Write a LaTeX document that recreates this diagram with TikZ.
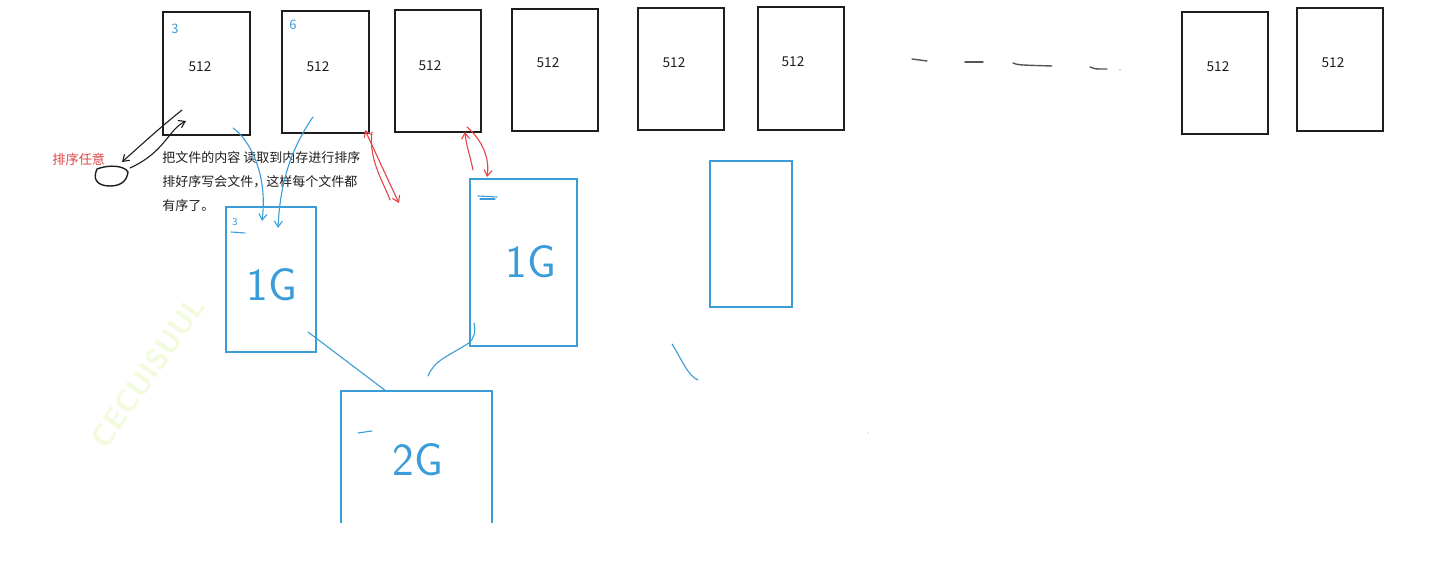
\documentclass[tikz,border=0pt]{standalone}
\usepackage{fontspec}
\setmainfont{Noto Sans CJK SC}
\usetikzlibrary{arrows.meta}
\definecolor{inkblue}{RGB}{58,157,217}
\definecolor{inkred}{RGB}{226,70,70}
\definecolor{inkblack}{RGB}{30,30,30}
\definecolor{wmcol}{RGB}{242,251,222}
\tikzset{
  fbox/.style={draw=inkblack,line width=1pt,inner sep=0pt,outer sep=0pt},
  mbox/.style={draw=inkblue,line width=1pt,inner sep=0pt,outer sep=0pt},
  numlbl/.style={inkblack,font=\fontsize{6.8}{8}\selectfont,inner sep=0pt},
  idxlbl/.style={inkblue,font=\fontsize{6.5}{8}\selectfont,inner sep=0pt},
  bigG/.style={inkblue,font=\sffamily\fontsize{23}{26}\selectfont,inner sep=0pt},
  pen/.style={line width=0.55pt,line cap=round,line join=round},
  bluepen/.style={pen,draw=inkblue},
  redpen/.style={pen,draw=inkred},
  blackpen/.style={pen,draw=inkblack},
  tip/.style={-{Straight Barb[length=3pt,width=4pt]}},
  dtip/.style={{Straight Barb[length=3pt,width=4pt]}-{Straight Barb[length=3pt,width=4pt]}},
}
\begin{document}
\begin{tikzpicture}[x=0.5pt,y=-0.5pt]
\useasboundingbox[fill=white] (0,0) rectangle (1450,577);
% watermark
\node[rotate=55,text=wmcol,font=\sffamily\bfseries\fontsize{15}{18}\selectfont] (wm) at (148,372) {CECUISUUL};
% top file boxes
\node[fbox,minimum width=43.5pt,minimum height=61.5pt] (f1) at (206.5,73.5) {};
\node[fbox,minimum width=43.5pt,minimum height=61pt] (f2) at (325.5,72) {};
\node[fbox,minimum width=43pt,minimum height=61pt] (f3) at (438,71) {};
\node[fbox,minimum width=43pt,minimum height=61pt] (f4) at (555,70) {};
\node[fbox,minimum width=43pt,minimum height=61pt] (f5) at (681,69) {};
\node[fbox,minimum width=43pt,minimum height=61.5pt] (f6) at (801,68.5) {};
\node[fbox,minimum width=43pt,minimum height=61pt] (f7) at (1225,73) {};
\node[fbox,minimum width=43pt,minimum height=61.5pt] (f8) at (1340,69.5) {};
\node[numlbl] (n1) at (200,67) {512};
\node[numlbl] (n2) at (318,67) {512};
\node[numlbl] (n3) at (430,66) {512};
\node[numlbl] (n4) at (548,63) {512};
\node[numlbl] (n5) at (674,63) {512};
\node[numlbl] (n6) at (793,62) {512};
\node[numlbl] (n7) at (1218,67) {512};
\node[numlbl] (n8) at (1333,63) {512};
\node[idxlbl] (i1) at (175,29) {3};
\node[idxlbl] (i2) at (293,25) {6};
% dashes between
\draw[blackpen,draw=inkblack!75,line width=0.7pt] (912,59) -- (927,61);
\draw[blackpen,draw=inkblack!75,line width=0.7pt] (965,62) -- (983,62);
\draw[blackpen,draw=inkblack!75,line width=0.7pt] (1013,63) .. controls (1018,65) .. (1052,66);
\draw[blackpen,draw=inkblack!75,line width=0.7pt] (1090,67) .. controls (1094,69) .. (1107,69);
\fill[inkblack!70] (1120,70) circle (0.6);
% memory boxes
\node[mbox,minimum width=45pt,minimum height=72.5pt] (mA) at (271,279.5) {};
\node[mbox,minimum width=53.5pt,minimum height=83.5pt] (mB) at (523.5,262.5) {};
\node[mbox,minimum width=41pt,minimum height=73pt] (mC) at (751,234) {};
\coordinate (dBL) at (341,523);
\coordinate (dTL) at (341,391);
\coordinate (dTR) at (492,391);
\coordinate (dBR) at (492,523);
\draw[draw=inkblue,line width=1pt] (dBL) -- (dTL) -- (dTR) -- (dBR);
% labels in memory boxes
\node[inkblue,font=\fontsize{5}{6}\selectfont,inner sep=0pt] (iA) at (235,222) {3};
\draw[bluepen] (231,232) -- (245,233);
\draw[bluepen] (478,196) -- (497,197);
\draw[bluepen] (480,199) -- (495,199);
\draw[bluepen] (358,433) -- (372,431);
\node[bigG] (gA) at (272,285) {1G};
\node[bigG] (gB) at (531,262) {1G};
\node[bigG] (gD) at (418,460) {2G};
% text
\node[inkred,font=\fontsize{6.6}{8}\selectfont,inner sep=0pt,anchor=west] (sortany) at (52,159) {排序任意};
\node[inkblack,font=\fontsize{6.5}{12}\selectfont,align=left,inner sep=0pt,anchor=north west] (desc) at (162,151)
  {把文件的内容 读取到内存进行排序\\排好序写会文件，这样每个文件都\\有序了。};
% black scribbles
\coordinate (b1s) at (182,110);
\coordinate (b1e) at (122,162);
\coordinate (b2s) at (130,168);
\coordinate (b2e) at (186,121);
\draw[blackpen,tip] (b1s) .. controls (160,128) .. (b1e);
\draw[blackpen,tip] (b2s) .. controls (165,152) and (168,130) .. (b2e);
\draw[blackpen,line width=0.7pt] (97,169) .. controls (110,164) and (125,166) .. (128,172)
  .. controls (127,180) and (122,186) .. (110,186) .. controls (98,186) and (92,180) .. (97,169);
% blue arrows file -> memory
\coordinate (a1s) at (233,128);
\coordinate (a2s) at (313,117);
\draw[bluepen,tip] (a1s) .. controls (250,140) and (268,175) .. (262,221);
\draw[bluepen,tip] (a2s) .. controls (290,150) and (280,185) .. (278,228);
% merge lines
\coordinate (dIn1) at (386,391);
\coordinate (dIn2) at (428,376);
\draw[bluepen] (308,332) -- (dIn1);
\draw[bluepen] (474,323) .. controls (476,332) and (474,338) .. (469,343) .. controls (445,358) and (435,360) .. (dIn2);
\draw[bluepen] (672,344) .. controls (682,360) and (688,376) .. (698,380);
\fill[inkblue!70] (868,433) circle (0.6);
% red scribbles
\draw[redpen,dtip] (365,130) .. controls (378,158) and (388,180) .. (399,203);
\draw[redpen] (372,132) .. controls (368,160) and (385,185) .. (390,200);
\draw[redpen,tip] (467,127) .. controls (482,140) and (490,158) .. (487,177);
\draw[redpen,tip] (473,170) .. controls (470,155) and (466,145) .. (465,132);
\end{tikzpicture}
\end{document}
